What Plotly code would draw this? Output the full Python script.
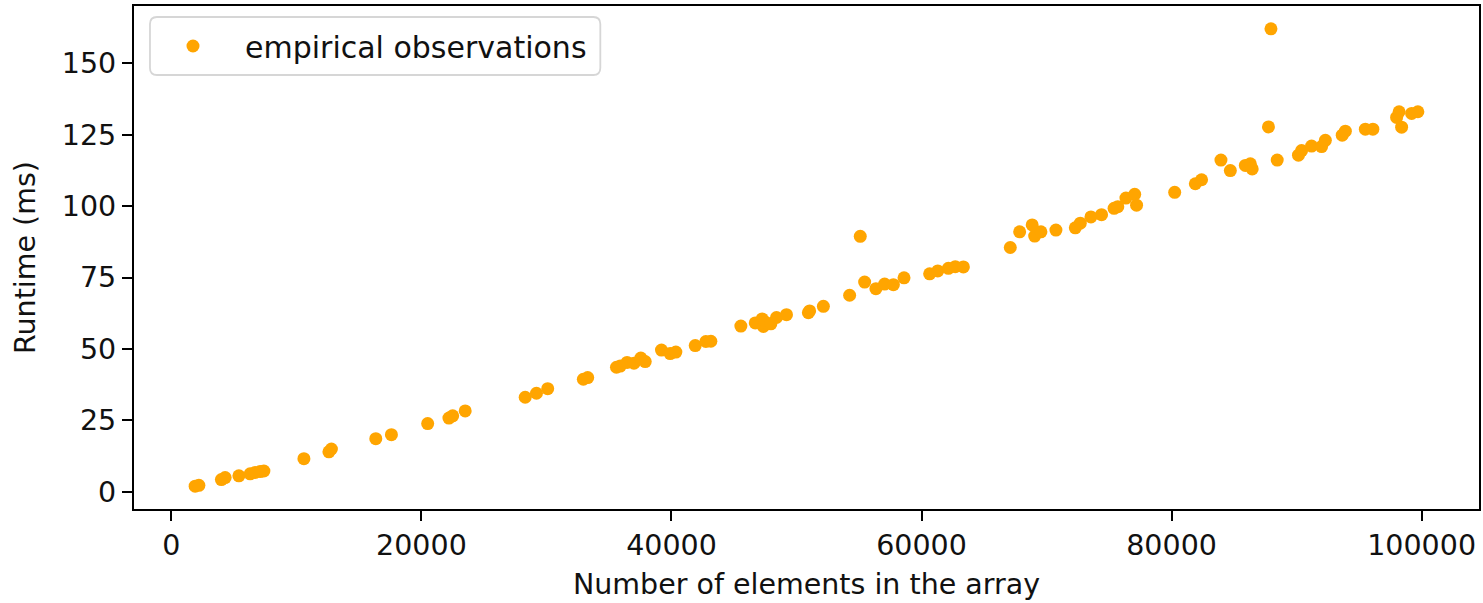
import plotly.graph_objects as go

# Data
n_elements = [1900, 2200, 4000, 4300, 5400, 6300, 6700, 7100, 7400, 10600,
              12600, 12800, 16350, 17600, 20500, 22200, 22500, 23500, 28300, 29200,
              30100, 32950, 33300, 35600, 35900, 36450, 37000, 37550, 37900, 39200,
              39900, 40350, 41900, 42750, 43150, 45550, 46700, 47250, 47350, 47500,
              47950, 48400, 49200, 50950, 51050, 52150, 54250, 55100, 55450, 56350,
              57050, 57750, 58600, 60650, 61300, 62150, 62700, 63350, 67100, 67850,
              68850, 69050, 69550, 70750, 72300, 72700, 73550, 74400, 75400, 75700,
              76350, 77050, 77200, 80250, 81900, 82400, 83950, 84700, 85900, 86300,
              86450, 87750, 87950, 88450, 90150, 90400, 91200, 92000, 92300, 93650,
              93900, 95500, 96100, 98000, 98200, 98400, 99200, 99700]
runtime_ms = [2.0, 2.3, 4.3, 5.0, 5.6, 6.3, 6.8, 7.1, 7.3, 11.6,
              14.0, 15.0, 18.6, 20.0, 23.9, 25.8, 26.6, 28.3, 33.1, 34.5,
              36.1, 39.4, 40.0, 43.6, 44.0, 45.3, 45.0, 46.8, 45.6, 49.6,
              48.4, 48.9, 51.2, 52.6, 52.7, 58.0, 59.1, 60.5, 57.9, 59.4,
              58.8, 61.0, 62.0, 62.7, 63.3, 64.9, 68.8, 89.4, 73.4, 71.1,
              72.7, 72.5, 74.9, 76.3, 77.3, 78.2, 78.8, 78.7, 85.5, 91.0,
              93.4, 89.5, 91.0, 91.6, 92.4, 94.0, 96.2, 97.0, 99.2, 99.8,
              102.8, 104.1, 100.3, 104.8, 107.8, 109.2, 116.1, 112.4, 114.2, 114.8,
              113.0, 127.7, 162.0, 116.1, 117.8, 119.4, 121.0, 120.8, 123.0, 124.8,
              126.2, 126.9, 126.9, 131.0, 133.0, 127.6, 132.4, 133.0]

series_name = "empirical observations"
x_title = "Number of elements in the array"
y_title = "Runtime (ms)"

FONT = "DejaVu Sans"
FS = 28.5
ORANGE = "#FFA500"

W, H = 1483, 603
ML, MR, MT, MB = 134, 2, 6, 94
PW, PH = W - ML - MR, H - MT - MB

xmin, xmax = min(n_elements), max(n_elements)
ymin, ymax = min(runtime_ms), max(runtime_ms)
xpad = 0.05 * (xmax - xmin)
ypad = 0.05 * (ymax - ymin)

fig = go.Figure()
fig.add_trace(go.Scatter(
    x=n_elements, y=runtime_ms, mode="markers", name=series_name,
    marker=dict(color=ORANGE, size=13, line=dict(width=0)),
))

axis_common = dict(
    showline=True, linecolor="black", linewidth=2.2, mirror=True,
    ticks="outside", ticklen=10, tickwidth=2.2, tickcolor="black",
    showgrid=False, zeroline=False,
    tickfont=dict(family=FONT, size=FS, color="#111111"),
)


def px_to_paper(px, py):
    return (px - ML) / PW, (H - MB - py) / PH


# legend frame (rounded rectangle) in pixel terms, converted to paper coords
lx0, ly0, lx1, ly1, r = 150, 17, 601, 75, 7
def P(px, py):
    a, b = px_to_paper(px, py)
    return f"{a:.5f},{b:.5f}"

legend_path = (f"M {P(lx0 + r, ly0)} L {P(lx1 - r, ly0)} Q {P(lx1, ly0)} {P(lx1, ly0 + r)} "
               f"L {P(lx1, ly1 - r)} Q {P(lx1, ly1)} {P(lx1 - r, ly1)} "
               f"L {P(lx0 + r, ly1)} Q {P(lx0, ly1)} {P(lx0, ly1 - r)} "
               f"L {P(lx0, ly0 + r)} Q {P(lx0, ly0)} {P(lx0 + r, ly0)} Z")

fig.add_shape(type="path", path=legend_path, xref="paper", yref="paper",
              line=dict(color="#d6d6d6", width=1.8), fillcolor="rgba(255,255,255,0.8)",
              layer="above")

leg_x, leg_y = px_to_paper(141, 46)

fig.update_layout(
    width=W, height=H,
    margin=dict(l=ML, r=MR, t=MT, b=MB),
    paper_bgcolor="white", plot_bgcolor="white",
    font=dict(family=FONT, size=FS, color="#111111"),
    showlegend=True,
    legend=dict(x=leg_x, y=leg_y, xanchor="left", yanchor="middle",
                bgcolor="rgba(0,0,0,0)", borderwidth=0,
                font=dict(family=FONT, size=30, color="#111111"), itemwidth=94),
    xaxis=dict(range=[xmin - xpad, xmax + xpad], dtick=20000, tick0=0, tickformat="d",
               title=dict(text=x_title, font=dict(family=FONT, size=FS), standoff=13),
               **axis_common),
    yaxis=dict(range=[ymin - ypad, ymax + ypad], dtick=25, tick0=0,
               title=dict(text=y_title, font=dict(family=FONT, size=FS), standoff=18),
               **axis_common),
)

fig.write_html("out.html")
